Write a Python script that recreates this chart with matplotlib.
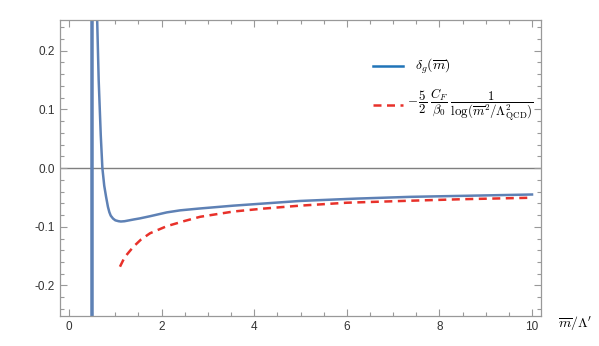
import numpy as np
import matplotlib
matplotlib.use("Agg")
import matplotlib.pyplot as plt
from matplotlib.ticker import MultipleLocator

# Data
# delta_g(mbar): steep part near the pole, then the branch to the right
pole_x = [0.465, 0.465, np.nan, 0.495, 0.495]
pole_y = [-0.27, 0.27, np.nan, 0.27, -0.27]
blue_x = [0.605, 0.64, 0.685, 0.72, 0.76, 0.80, 0.84, 0.87, 0.90, 0.95, 1.0, 1.07, 1.12,
          1.2, 1.3, 1.4, 1.53, 1.75, 2.11, 2.4, 2.8, 3.55, 4.99, 6.2, 7.37, 8.7, 10.0]
blue_y = [0.26, 0.15, 0.056, 0.0, -0.03, -0.049, -0.066, -0.075, -0.081, -0.086, -0.089,
          -0.0905, -0.091, -0.0905, -0.089, -0.0875, -0.0857, -0.082, -0.0755, -0.072,
          -0.069, -0.064, -0.056, -0.052, -0.049, -0.047, -0.045]
# -5/2 CF/beta0 / log(mbar^2/Lambda^2)
red_x = [1.10, 1.2, 1.39, 1.55, 1.75, 2.11, 2.5, 2.83, 3.55, 4.2, 4.99, 6.0, 7.37, 8.5, 10.0]
red_y = [-0.168, -0.152, -0.134, -0.122, -0.111, -0.099, -0.090, -0.083, -0.074, -0.069,
         -0.064, -0.059, -0.0556, -0.053, -0.0505]

blue_label = r'$\delta_g(\overline{m})$'
red_label = (r'$-\,\dfrac{5}{2}\;\dfrac{C_F}{\beta_0}\;'
             r'\dfrac{1}{\log(\overline{m}^2/\Lambda^2_{\mathrm{QCD}})}$')

plt.rcParams['font.family'] = 'Liberation Sans'
plt.rcParams['mathtext.fontset'] = 'cm'

fig = plt.figure(figsize=(5.99, 3.46), dpi=100)
ax = fig.add_axes([0.1002, 0.0867, 0.8038, 0.855])

curve_blue = '#5E81B5'
ax.axhline(0, color='#7f7f7f', lw=1.0, zorder=1)
ax.plot(pole_x, pole_y, color=curve_blue, lw=1.8)
ax.plot(blue_x, blue_y, color=curve_blue, lw=1.8)
ax.plot(red_x, red_y, color='#E8312A', lw=1.8, dashes=(3.2, 2.2))

ax.set_xlim(-0.195, 10.205)
ax.set_ylim(-0.252, 0.252)

ax.xaxis.set_major_locator(MultipleLocator(2))
ax.xaxis.set_minor_locator(MultipleLocator(0.5))
ax.yaxis.set_major_locator(MultipleLocator(0.1))
ax.yaxis.set_minor_locator(MultipleLocator(0.02))
ax.yaxis.set_major_formatter(matplotlib.ticker.FormatStrFormatter('%.1f'))
ax.tick_params(which='both', direction='in', top=True, right=True, color='#999999',
               labelsize=8.5, labelcolor='#333333', width=0.8)
ax.tick_params(which='major', length=5)
ax.tick_params(which='minor', length=3)
for s in ax.spines.values():
    s.set_color('#999999')
    s.set_linewidth(0.9)

# legend, drawn by hand to match the spacing
lx0, lx1 = 0.65, 0.712
ax.plot([lx0, lx1], [0.845, 0.845], transform=ax.transAxes, color='#2074B8', lw=1.8)
ax.text(0.738, 0.845, blue_label, transform=ax.transAxes, fontsize=10, va='center')
ax.plot([lx0, lx1], [0.713, 0.713], transform=ax.transAxes, color='#E8312A', lw=1.8,
        dashes=(3.2, 2.2))
ax.text(0.72, 0.713, red_label, transform=ax.transAxes, fontsize=9.3, va='center')

ax.text(1.035, -0.022, r'$\overline{m}/\Lambda^{\prime}$', transform=ax.transAxes,
        fontsize=10, va='center', ha='left')

fig.savefig('out.png', dpi=100)
